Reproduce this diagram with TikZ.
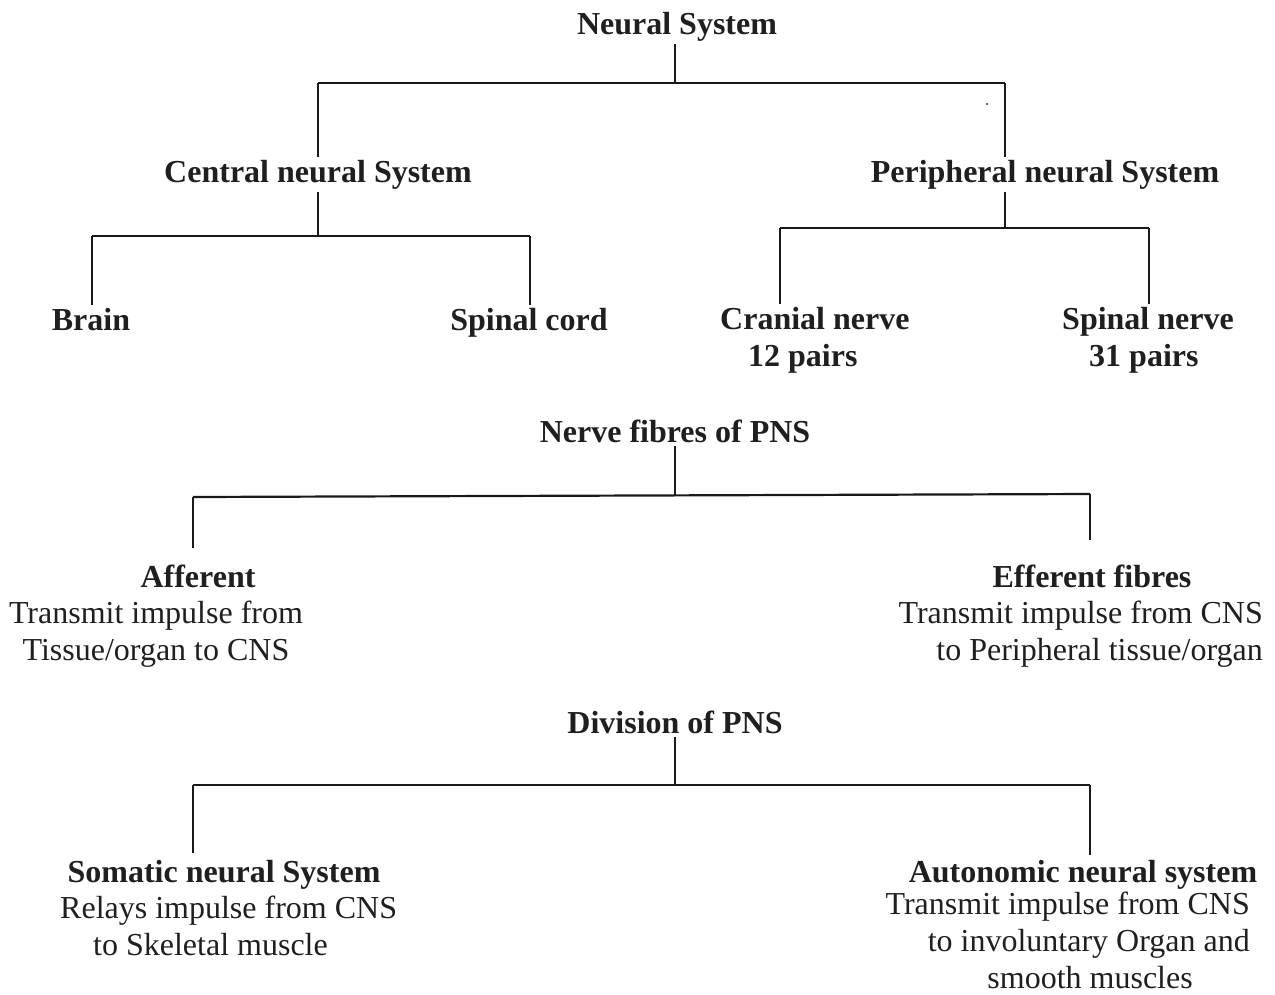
\documentclass[tikz,border=0pt]{standalone}
\usepackage{fontspec}
\setmainfont{Liberation Serif}
\usetikzlibrary{backgrounds}
\begin{document}
\begin{tikzpicture}[x=1pt,y=-1pt,
  every node/.style={font=\fontsize{32}{37}\selectfont, inner sep=3pt, text=black!88},
  head/.style={font=\fontsize{32}{37}\selectfont\bfseries, anchor=base, fill=white},
  desc/.style={anchor=base},
  wire/.style={line width=1.5pt, black!90},
  bar/.style={line width=2.2pt, black!90}]
\useasboundingbox (0,0) rectangle (1275,994);

% nodes (multi-line nodes are placed by the baseline of their last line)
\node[head] (ns) at (677,34) {Neural System};
\node[head] (cns) at (318,182) {Central neural System};
\node[head] (pns) at (1045,182) {Peripheral neural System};
\node[head] (brain) at (91,330) {Brain};
\node[head] (cord) at (529,330) {Spinal cord};
\node[head, align=left, anchor=base west] (cran) at (717,366) {Cranial nerve\\\hspace*{28pt}12 pairs};
\node[head, align=left, anchor=base west] (spn) at (1059,366) {Spinal nerve\\\hspace*{27pt}31 pairs};

\node[head] (nf) at (675,442) {Nerve fibres of PNS};
\node[head] (aff) at (198,587) {Afferent};
\node[desc, align=center] (affd) at (156,660) {Transmit impulse from\\Tissue/organ to CNS};
\node[head] (eff) at (1092,587) {Efferent fibres};
\node[desc, align=right, anchor=base east] (effd) at (1266,660) {Transmit impulse from CNS\\to Peripheral tissue/organ};

\node[head] (div) at (675,733) {Division of PNS};
\node[head] (som) at (224,882) {Somatic neural System};
\node[desc, align=left, anchor=base west] (somd) at (57,955) {Relays impulse from CNS\\\hspace*{33pt}to Skeletal muscle};
\node[head] (aut) at (1083,882) {Autonomic neural system};
\node[desc, align=right, anchor=base east] (autd) at (1253,988) {Transmit impulse from CNS\\to involuntary Organ and\\smooth muscles\rule{57pt}{0pt}};

% coordinates
\coordinate (t) at (675,83);
\coordinate (tl) at (318,83);
\coordinate (tr) at (1005,83);
\coordinate (cl) at (92,236);
\coordinate (cr) at (530,236);
\coordinate (pl) at (780,228);
\coordinate (pr) at (1149,228);
\coordinate (nm) at (675,496);
\coordinate (nl) at (193,497);
\coordinate (nr) at (1090,494);
\coordinate (affend) at (193,548);
\coordinate (effend) at (1090,540);
\coordinate (dm) at (675,785);
\coordinate (dl) at (193,785);
\coordinate (dr) at (1090,785);
\coordinate (somend) at (193,853);
\coordinate (autend) at (1090,855);

\begin{scope}[on background layer]
  \draw[wire] (ns.south -| t) -- (t);
  \draw[bar] (tl) -- (tr);
  \draw[wire] (tl) -- (tl |- cl);
  \draw[wire] (tr) -- (tr |- pl);
  \draw[bar] (cl) -- (cr);
  \draw[bar] (pl) -- (pr);
  \draw[wire] (cl) -- (cl |- brain.north);
  \draw[wire] (cr) -- (cr |- cord.north);
  \draw[wire] (pl) -- (pl |- cran.north);
  \draw[wire] (pr) -- (pr |- spn.north);

  \draw[wire] (nf.south -| nm) -- (nm);
  \draw[bar] (nl) -- (nr);
  \draw[wire] (nl) -- (affend);
  \draw[wire] (nr) -- (effend);

  \draw[wire] (div.south -| dm) -- (dm);
  \draw[bar] (dl) -- (dr);
  \draw[wire] (dl) -- (somend);
  \draw[wire] (dr) -- (autend);
\end{scope}
\fill[black!80] (987,104) circle (1.1pt);
\end{tikzpicture}
\end{document}
